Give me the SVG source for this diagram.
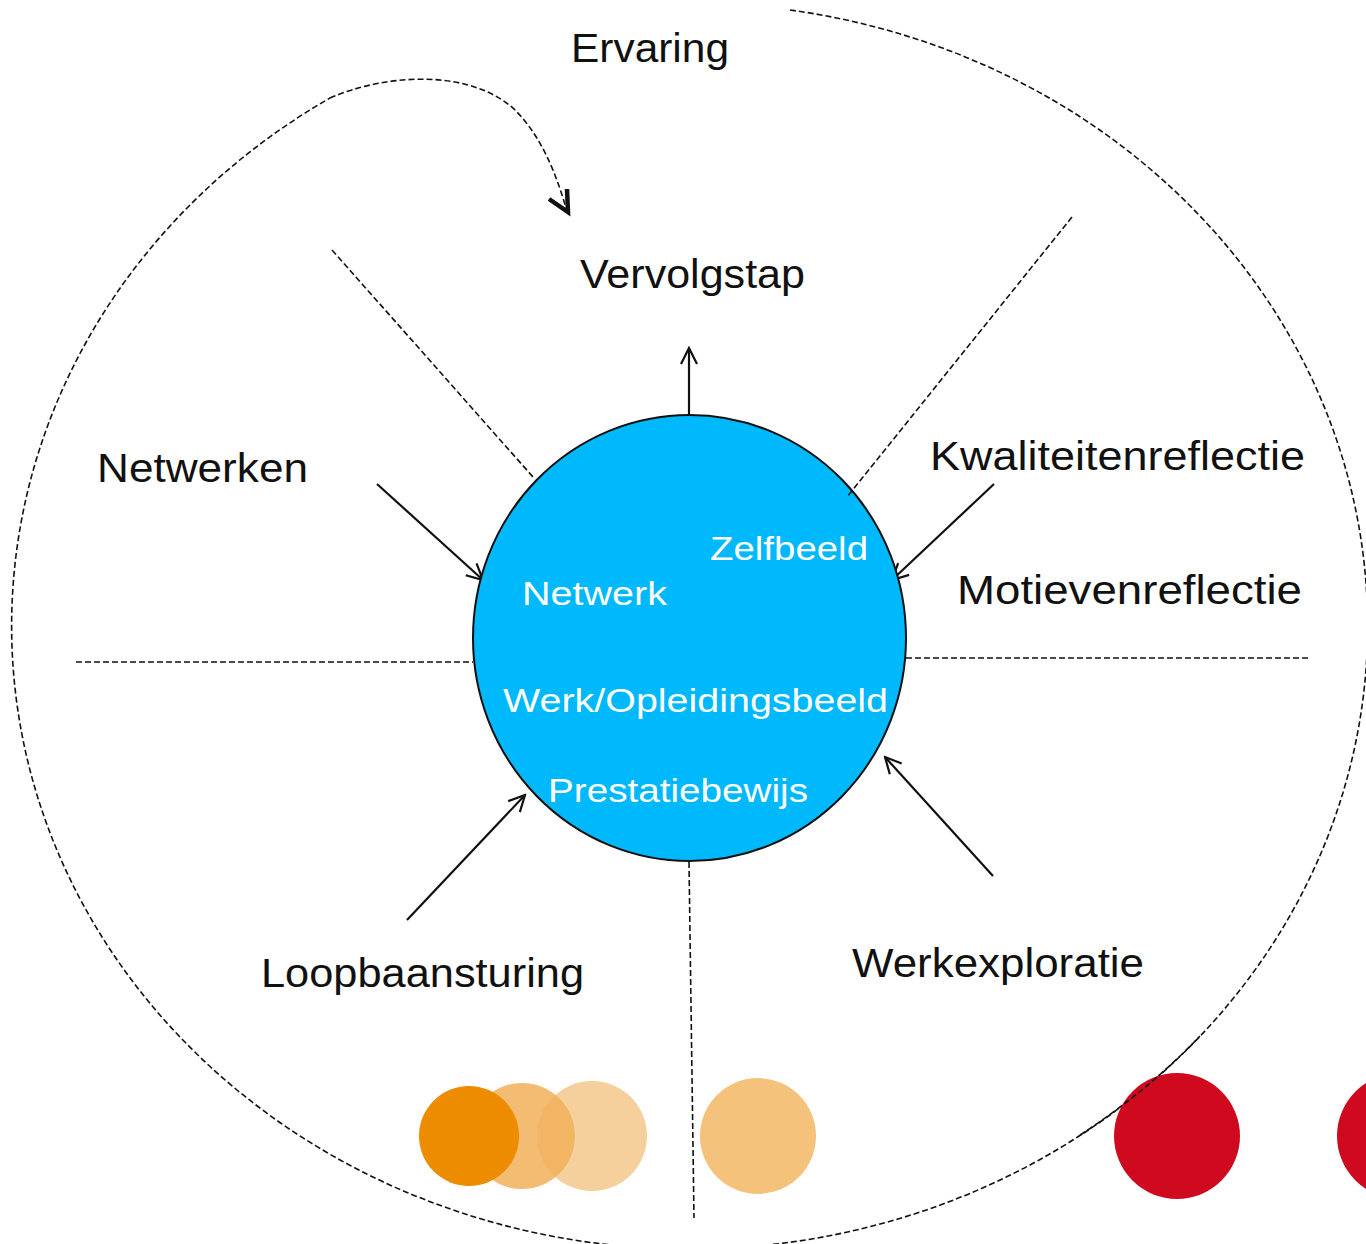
<svg xmlns="http://www.w3.org/2000/svg" width="1366" height="1244" viewBox="0 0 1366 1244">
<style>
.lbl{font-family:"Liberation Sans",Arial,sans-serif;font-size:41px;fill:#111}
.in{font-family:"Liberation Sans",Arial,sans-serif;font-size:34px;fill:#fff}
.dash{fill:none;stroke:#111;stroke-width:1.6;stroke-dasharray:6 3}
.arr{fill:none;stroke:#111;stroke-width:2.2}
</style>
<defs>
<marker id="ah" viewBox="0 0 20 20" refX="18" refY="10" markerWidth="20" markerHeight="20" markerUnits="userSpaceOnUse" orient="auto">
<path d="M2,2 L18,10 L2,18" fill="none" stroke="#111" stroke-width="2.2"/>
</marker>
</defs>
<rect width="1366" height="1244" fill="#fff"/>
<g id="connectors">
<path class="dash" d="M790,10 A678,623 0 1,1 330,98"/>
<path class="dash" d="M330,98 C385,74 470,68 515,110 C540,135 555,170 566,208"/>
<path d="M549,199 L568,212 L567,189" fill="none" stroke="#111" stroke-width="4.5"/>
<line class="dash" x1="332" y1="250" x2="533" y2="477"/>
<line class="dash" x1="76" y1="662" x2="473" y2="662"/>
<line class="dash" x1="906" y1="658" x2="1308" y2="658"/>
<line class="dash" x1="689" y1="862" x2="694" y2="1218"/>
<line class="arr" x1="689" y1="415" x2="689" y2="348" marker-end="url(#ah)"/>
<line class="arr" x1="377" y1="484" x2="483" y2="580" marker-end="url(#ah)"/>
<line class="arr" x1="994" y1="484" x2="892" y2="580" marker-end="url(#ah)"/>
<line class="arr" x1="407" y1="920" x2="525" y2="795" marker-end="url(#ah)"/>
<line class="arr" x1="993" y1="876" x2="885" y2="757" marker-end="url(#ah)"/>
</g>
<g id="center">
<ellipse cx="689.5" cy="638" rx="216.5" ry="223" fill="#00B8FC" stroke="#111" stroke-width="2"/>
<text class="in" x="710" y="560" textLength="158" lengthAdjust="spacingAndGlyphs">Zelfbeeld</text>
<text class="in" x="522" y="605" textLength="145" lengthAdjust="spacingAndGlyphs">Netwerk</text>
<text class="in" x="503" y="712" textLength="385" lengthAdjust="spacingAndGlyphs">Werk/Opleidingsbeeld</text>
<text class="in" x="548" y="802" textLength="260" lengthAdjust="spacingAndGlyphs">Prestatiebewijs</text>
</g>
<line class="dash" x1="1072" y1="217" x2="847" y2="497"/>
<g id="ervaring"><text class="lbl" x="571" y="62" textLength="158" lengthAdjust="spacingAndGlyphs">Ervaring</text></g>
<g id="vervolgstap"><text class="lbl" x="580" y="288" textLength="225" lengthAdjust="spacingAndGlyphs">Vervolgstap</text></g>
<g id="netwerken"><text class="lbl" x="97" y="482" textLength="211" lengthAdjust="spacingAndGlyphs">Netwerken</text></g>
<g id="kwaliteitenreflectie"><text class="lbl" x="930" y="470" textLength="375" lengthAdjust="spacingAndGlyphs">Kwaliteitenreflectie</text></g>
<g id="motievenreflectie"><text class="lbl" x="957" y="604" textLength="345" lengthAdjust="spacingAndGlyphs">Motievenreflectie</text></g>
<g id="loopbaansturing"><text class="lbl" x="261" y="987" textLength="323" lengthAdjust="spacingAndGlyphs">Loopbaansturing</text></g>
<g id="werkexploratie"><text class="lbl" x="852" y="977" textLength="292" lengthAdjust="spacingAndGlyphs">Werkexploratie</text></g>
<g id="dots">
<circle cx="522" cy="1136" r="53" fill="#F3BC72"/>
<circle cx="592" cy="1136" r="55" fill="#F0B05A" fill-opacity="0.6"/>
<circle cx="469" cy="1136" r="50" fill="#EE8C00"/>
<circle cx="758" cy="1136" r="58" fill="#F5C27C"/>
<circle cx="1177" cy="1136" r="63" fill="#CF0A1E"/>
<circle cx="1400" cy="1136" r="63" fill="#CF0A1E"/>
</g>
<path class="dash" d="M1080,1135 A678,623 0 0,0 1200,1036"/>
</svg>
